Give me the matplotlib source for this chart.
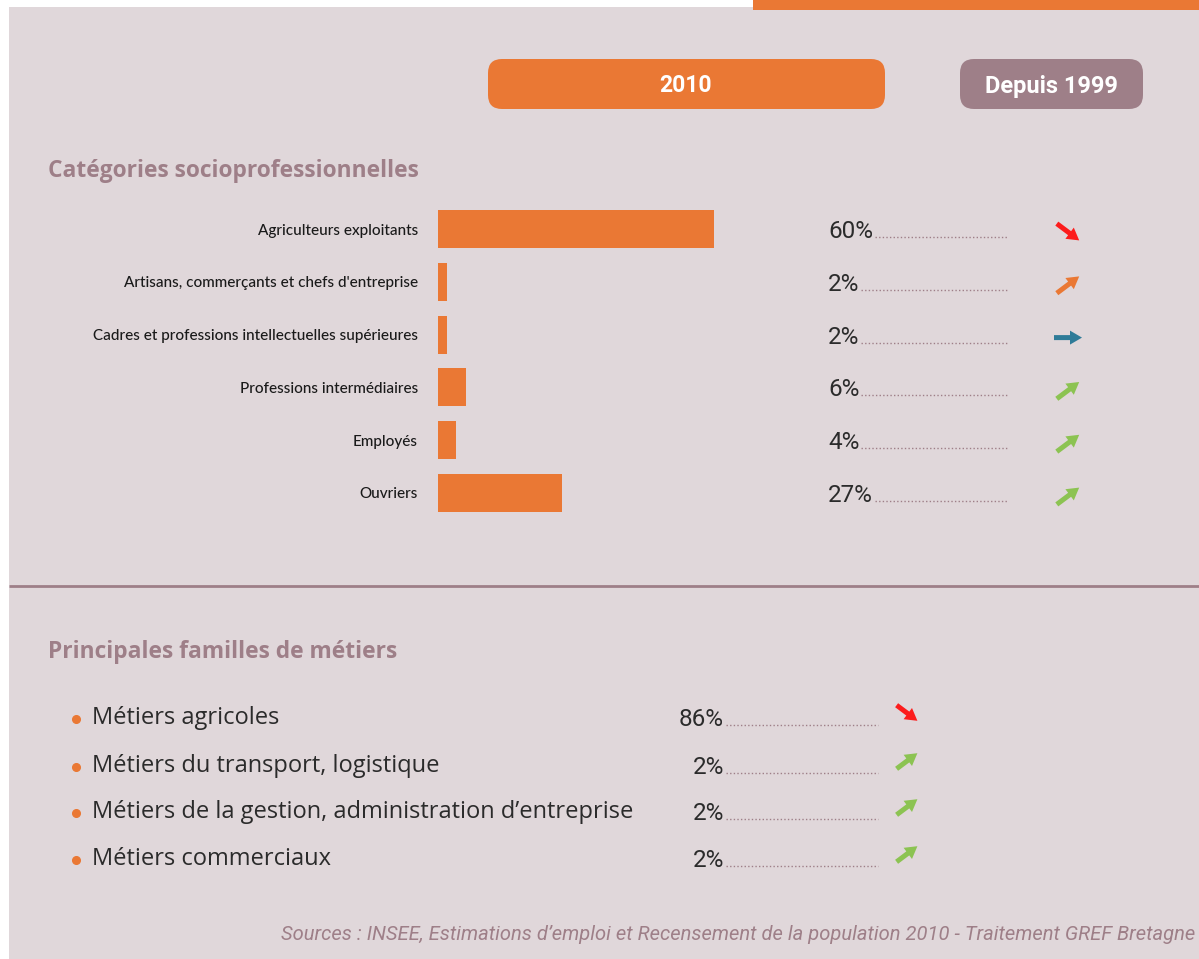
import matplotlib
matplotlib.use("Agg")
import matplotlib.pyplot as plt
from matplotlib.patches import FancyBboxPatch, Rectangle, FancyArrow

# ---- data ----
categories = ["Agriculteurs exploitants",
              "Artisans, commerçants et chefs d'entreprise",
              "Cadres et professions intellectuelles supérieures",
              "Professions intermédiaires",
              "Employés",
              "Ouvriers"]
cat_values = [60, 2, 2, 6, 4, 27]
cat_trends = ["down", "up_orange", "flat", "up", "up", "up"]

metiers = ["Métiers agricoles",
           "Métiers du transport, logistique",
           "Métiers de la gestion, administration d\u2019entreprise",
           "Métiers commerciaux"]
met_values = [86, 2, 2, 2]
met_trends = ["down", "up", "up", "up"]

title_cat = "Catégories socioprofessionnelles"
title_met = "Principales familles de métiers"
header_year = "2010"
header_since = "Depuis 1999"
source = "Sources : INSEE, Estimations d\u2019emploi et Recensement de la population 2010 - Traitement GREF Bretagne"

ORANGE = "#ea7834"
MAUVE = "#9e7f88"
BG = "#e0d7da"
DARK = "#2b2b2b"
trend_colors = {"down": "#fc1c1c", "up_orange": "#ea7834", "flat": "#2f7b98", "up": "#8cc352"}

W, H = 1199, 959
fig = plt.figure(figsize=(W / 100, H / 100), dpi=100)
fig.patch.set_facecolor("white")

bg = fig.add_axes([0, 0, 1, 1])
bg.set_xlim(0, W)
bg.set_ylim(H, 0)
bg.axis("off")

# panel
bg.add_patch(Rectangle((9, 7), W - 9, H - 7, facecolor=BG, edgecolor="none"))
bg.add_patch(Rectangle((753, 0), W - 753, 10, facecolor=ORANGE, edgecolor="none"))

# header pills
bg.add_patch(FancyBboxPatch((488 + 14, 59 + 14), 397 - 28, 50 - 28,
                            boxstyle="round,pad=14", facecolor=ORANGE, edgecolor="none"))
bg.text(686, 86, header_year, ha="center", va="center", color="white",
        fontsize=16.5, fontweight="bold", family="Roboto")
bg.add_patch(FancyBboxPatch((960 + 14, 59 + 14), 183 - 28, 50 - 28,
                            boxstyle="round,pad=14", facecolor=MAUVE, edgecolor="none"))
bg.text(1051, 86, header_since, ha="center", va="center", color="white",
        fontsize=17, fontweight="bold", family="Roboto")

# section titles
bg.text(48, 171, title_cat, ha="left", va="center", color=MAUVE,
        fontsize=16.4, fontweight="bold", family="Open Sans")
bg.text(48, 652, title_met, ha="left", va="center", color=MAUVE,
        fontsize=16.4, fontweight="bold", family="Open Sans")

# separator
bg.plot([9, W], [586, 586], color=MAUVE, lw=2, solid_capstyle="butt")

# ---- bar chart ----
y_top, step = 229, 52.8
n = len(categories)
x0_px, px_per = 438, 4.6
ax_left = x0_px / W
ax_width = (px_per * 100) / W
y_first = y_top - step / 2
y_last = y_top + (n - 1) * step + step / 2
ax = fig.add_axes([ax_left, 1 - y_last / H, ax_width, (y_last - y_first) / H])
ax.set_xlim(0, 100)
ax.set_ylim(n - 0.5, -0.5)
ax.barh(range(n), cat_values, height=0.72, color=ORANGE)
ax.set_yticks(range(n))
ax.set_yticklabels(categories, fontsize=11, family="Lato", color="#1a1a1a",
                   fontweight="medium")
ax.tick_params(axis="y", length=0, pad=14.4)
ax.set_xticks([])
for s in ax.spines.values():
    s.set_visible(False)
ax.patch.set_visible(False)

fig.canvas.draw()
renderer = fig.canvas.get_renderer()


def arrow(xc, yc, kind, length=28):
    col = trend_colors[kind]
    if kind == "down":
        dx, dy = 1, 0.75
    elif kind == "flat":
        dx, dy = 1, 0
    else:
        dx, dy = 1, -0.75
    norm = (dx ** 2 + dy ** 2) ** 0.5
    dx, dy = dx / norm * length, dy / norm * length
    bg.add_patch(FancyArrow(xc - dx / 2, yc - dy / 2, dx, dy, width=5,
                            head_width=14, head_length=12,
                            length_includes_head=True, color=col, lw=0))


def pct_with_dots(x, y, val, ha, dots_end, size):
    t = bg.text(x, y, f"{val}%", ha=ha, va="baseline", color=DARK,
                fontsize=size, family="Roboto")
    bb = t.get_window_extent(renderer)
    x_end = bb.x1 + 2
    bg.plot([x_end, dots_end], [y - 1, y - 1], color=MAUVE, lw=1.0,
            linestyle=(0, (1, 1.6)))


for i, (v, tr) in enumerate(zip(cat_values, cat_trends)):
    yc = y_top + i * step
    pct_with_dots(828, yc + 9, v, "left", 1008, 17.5)
    arrow(1068, yc + 3, tr)

# ---- métiers list ----
met_y = [717, 765, 811, 858]
for name, v, tr, yy in zip(metiers, met_values, met_trends, met_y):
    bg.plot(76, yy + 2, "o", color=ORANGE, ms=5.5)
    bg.text(92, yy + 1, name, ha="left", va="center", color=DARK,
            fontsize=17, family="Open Sans")
    pct_with_dots(724, yy + 9, v, "right", 878, 17.5)
    arrow(907, yy - 4, tr, length=26)

bg.text(1195, 934, source, ha="right", va="center", color=MAUVE,
        fontsize=14.5, style="italic", family="Roboto")

fig.savefig("out.png", dpi=100, facecolor=fig.get_facecolor())
